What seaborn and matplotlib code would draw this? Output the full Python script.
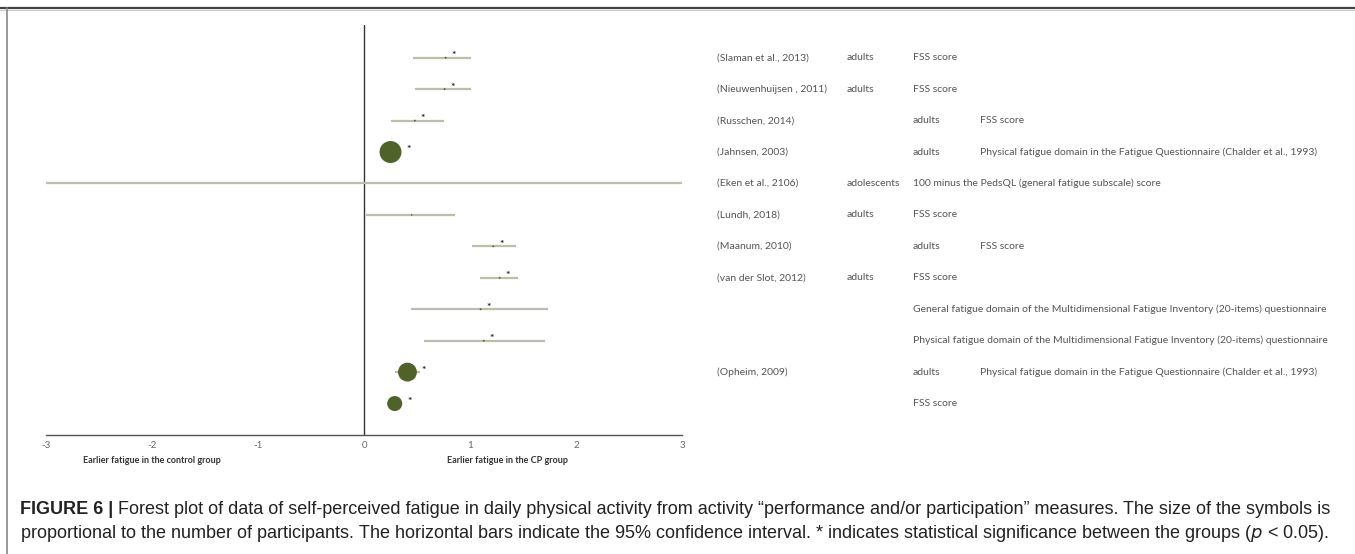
import numpy as np
import pandas as pd
import matplotlib
matplotlib.use("Agg")
import matplotlib.pyplot as plt
import seaborn as sns
from matplotlib.lines import Line2D

# Studies (top to bottom) and their effect estimates with 95% CI
study = ["(Slaman et al., 2013)", "(Nieuwenhuijsen , 2011)", "(Russchen, 2014)", "(Jahnsen, 2003)",
         "(Eken et al., 2106)", "(Lundh, 2018)", "(Maanum, 2010)", "(van der Slot, 2012)",
         "", "", "(Opheim, 2009)", ""]
population = ["adults", "adults", "adults", "adults", "adolescents", "adults", "adults", "adults",
              "", "", "adults", ""]
measure = ["FSS score", "FSS score", "FSS score",
           "Physical fatigue domain in the Fatigue Questionnaire (Chalder et al., 1993)",
           "100 minus the PedsQL (general fatigue subscale) score", "FSS score", "FSS score", "FSS score",
           "General fatigue domain of the Multidimensional Fatigue Inventory (20-items) questionnaire",
           "Physical fatigue domain of the Multidimensional Fatigue Inventory (20-items) questionnaire",
           "Physical fatigue domain in the Fatigue Questionnaire (Chalder et al., 1993)", "FSS score"]
# extra tab in the label text (population shifted one column right)
extra_tab = [0, 0, 1, 1, 0, 0, 1, 0, 0, 0, 1, 0]
effect = [0.77, 0.76, 0.48, 0.25, 0.30, 0.45, 1.22, 1.28, 1.10, 1.13, 0.41, 0.29]
ci_low = [0.46, 0.48, 0.25, 0.18, -3.6, 0.02, 1.02, 1.09, 0.44, 0.57, 0.29, 0.22]
ci_high = [1.01, 1.01, 0.75, 0.32, 3.6, 0.86, 1.43, 1.45, 1.74, 1.71, 0.53, 0.36]
participants = [3, 3, 3, 406, 0, 2, 3, 3, 3, 3, 300, 190]
significant = [True, True, True, True, False, False, True, True, True, True, True, True]

df = pd.DataFrame({"row": np.arange(1, len(study) + 1), "effect": effect, "lo": ci_low,
                   "hi": ci_high, "n": participants, "sig": significant})

sns.set_theme(style="white")
plt.rcParams["font.family"] = ["Lato", "DejaVu Sans"]

W, H = 1355, 554
fig = plt.figure(figsize=(W / 100, H / 100), dpi=100)
ax = fig.add_axes([46 / W, 1 - 435 / H, 636 / W, 410 / H])

line_col = "#bdbdab"
dot_col = "#4f6228"

ax.hlines(df["row"], df["lo"], df["hi"], color=line_col, lw=1.6, zorder=2)
sns.scatterplot(data=df, x="effect", y="row", size="n", sizes=(0, 250), size_norm=(0, 406),
                color=dot_col, edgecolor="none", legend=False, ax=ax, zorder=3)
for _, r in df[df["sig"]].iterrows():
    rad = np.sqrt(r["n"] * 250 / 406) / 2
    ax.annotate("*", (r["effect"], r["row"]), xytext=(rad + 3.5, 1.5), textcoords="offset points",
                ha="left", va="center", fontsize=7.5, fontweight="bold", color="#222222")

ax.axvline(0, color="#333333", lw=1.0, zorder=1)
ax.set_xlim(-3, 3)
ax.set_ylim(13.0, -0.04)
ax.set_xticks([-3, -2, -1, 0, 1, 2, 3])
ax.set_xticklabels(["-3", "-2", "-1", "0", "1", "2", "3"])
ax.set_yticks([])
ax.set_xlabel("")
ax.set_ylabel("")
for s in ["top", "left", "right"]:
    ax.spines[s].set_visible(False)
ax.spines["bottom"].set_color("#555555")
ax.spines["bottom"].set_linewidth(1.0)
ax.tick_params(axis="x", direction="inout", length=4, width=0.8, color="#555555",
               labelsize=7, labelcolor="#666666", pad=2)
ax.patch.set_alpha(0)

# group labels under the axis
ax.text(-2.0, 13.8, "Earlier fatigue in the control group", ha="center", va="center",
        fontsize=6.5, fontweight="bold", color="#333333")
ax.text(1.35, 13.8, "Earlier fatigue in the CP group", ha="center", va="center",
        fontsize=6.5, fontweight="bold", color="#333333")

# text columns on the right
cols = [717, 847, 913, 980]
trans = matplotlib.transforms.blended_transform_factory(fig.transFigure, ax.transData)
for i in range(len(study)):
    y = i + 1
    t = extra_tab[i]
    if study[i]:
        ax.text(cols[0] / W, y, study[i], transform=trans, ha="left", va="center",
                fontsize=7.5, color="#555555", clip_on=False)
    if population[i]:
        ax.text(cols[1 + t] / W, y, population[i], transform=trans, ha="left", va="center",
                fontsize=7.5, color="#555555", clip_on=False)
    ax.text(cols[2 + t] / W, y, measure[i], transform=trans, ha="left", va="center",
            fontsize=7.5, color="#555555", clip_on=False)

# frame lines
fig.add_artist(Line2D([0, 1], [1 - 8 / H, 1 - 8 / H], color="#444444", lw=1.6))
fig.add_artist(Line2D([0, 1], [1 - 10 / H, 1 - 10 / H], color="#cccccc", lw=0.8))
fig.add_artist(Line2D([7 / W, 7 / W], [0, 1 - 8 / H], color="#888888", lw=1.2))

# caption
cap1 = ("Forest plot of data of self-perceived fatigue in daily physical activity from activity "
        "\u201cperformance and/or participation\u201d measures. The size of the symbols is")
cap2 = ("proportional to the number of participants. The horizontal bars indicate the 95% confidence "
        "interval. * indicates statistical significance between the groups ($p$ < 0.05).")
cfont = ["Liberation Sans Narrow", "Liberation Sans", "DejaVu Sans"]
t1 = fig.text(20 / W, 1 - 509 / H, "FIGURE 6 | ", ha="left", va="center", fontsize=13,
              fontweight="bold", color="#222222", family=cfont)
fig.canvas.draw()
bb = t1.get_window_extent()
fig.text(bb.x1 / W, 1 - 509 / H, cap1, ha="left", va="center", fontsize=13,
         color="#222222", family=cfont)
fig.text(20 / W, 1 - 533 / H, cap2, ha="left", va="center", fontsize=13,
         color="#222222", family=cfont)

fig.savefig("out.png", dpi=100)
